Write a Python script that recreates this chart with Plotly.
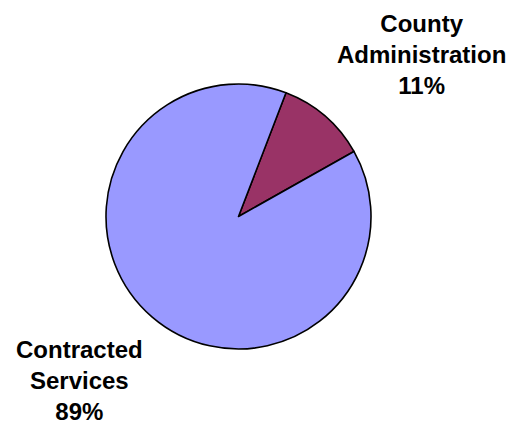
import plotly.graph_objects as go

# Budget share by category
labels = ["County Administration", "Contracted Services"]
values = [11, 89]
colors = ["#993366", "#9999FF"]

# Label anchor points (paper coordinates) for each category
label_x = [421 / 514, 79 / 514]
label_y = [1 - 55 / 425, 1 - 380 / 425]

total = sum(values)

fig = go.Figure(
    go.Pie(
        labels=labels,
        values=values,
        sort=False,
        direction="clockwise",
        rotation=21,
        marker=dict(colors=colors, line=dict(color="#000000", width=1.6)),
        textinfo="none",
        hoverinfo="label+percent",
        showlegend=False,
        domain=dict(x=[106 / 514, 371 / 514], y=[1 - 349 / 425, 1 - 84 / 425]),
    )
)

for lab, v, x, y in zip(labels, values, label_x, label_y):
    pct = round(100 * v / total)
    fig.add_annotation(
        x=x,
        y=y,
        xref="paper",
        yref="paper",
        xanchor="center",
        yanchor="middle",
        align="center",
        showarrow=False,
        text=f"<b>{lab.replace(' ', '<br>')}<br>{pct}%</b>",
        font=dict(family="Liberation Sans, Arial, sans-serif", size=24, color="#000000"),
    )

fig.update_layout(
    width=514,
    height=425,
    margin=dict(l=0, r=0, t=0, b=0),
    paper_bgcolor="#FFFFFF",
    plot_bgcolor="#FFFFFF",
)

fig.write_html("out.html")
